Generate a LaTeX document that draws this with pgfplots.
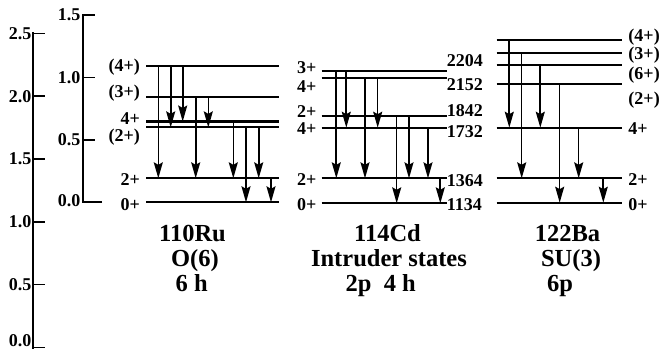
\documentclass[border=0pt]{standalone}
\usepackage{fontspec}
\setmainfont{Liberation Serif}
\usepackage{pgfplots}
\pgfplotsset{compat=1.18}
\usetikzlibrary{arrows.meta}

\newcommand\lab{\fontsize{18bp}{18bp}\selectfont\bfseries}
\newcommand\biglab{\fontsize{24.5bp}{24.5bp}\selectfont\bfseries}

\pgfplotsset{
  lev/.style={black, line width=1.8bp, no marks},
  tr/.style={black, line width=1.6bp, no marks, -{Stealth[length=16bp,width=9bp,inset=2.5bp]}},
  scaleaxis/.style={scale only axis, clip=false,
    axis line style={draw=none},
    xtick=\empty, ytick pos=left,
    tick align=inside, major tick length=12bp,
    major tick style={line width=1.6bp, black},
    yticklabel style={font=\lab, anchor=east, inner sep=0pt}},
}
\tikzset{
  ll/.style={font=\lab, anchor=base east, inner sep=0pt},
  rl/.style={font=\lab, anchor=base west, inner sep=0pt},
  bl/.style={font=\biglab, anchor=base, inner sep=0pt},
}

\begin{document}
\begin{tikzpicture}
\useasboundingbox (-33bp,-1.5bp) rectangle (630bp,347.5bp);
% ---------------- outer scale (MeV), also the frame for 114Cd and 122Ba
\begin{axis}[scaleaxis, name=A, at={(0,0)}, anchor=south west,
  width=630bp, height=314bp, xmin=33, xmax=663, ymin=0, ymax=2.5,
  ytick={0,0.5,1,1.5,2,2.5},
  yticklabels={\raisebox{14bp}{0.0},0.5,1.0,1.5,2.0,2.5},
  yticklabel style={xshift=-1.5bp}]
\draw[line width=1.8bp] (rel axis cs:0,-0.008) -- (rel axis cs:0,1.004);
\coordinate (Borig) at (axis cs:83,1.156);
% 114Cd levels
\addplot[lev] coordinates {(321.7,1.148) (446.7,1.148)};
\addplot[lev] coordinates {(321.7,1.347) (446.7,1.347)};
\addplot[lev] coordinates {(321.7,1.750) (446.7,1.750)};
\addplot[lev] coordinates {(321.7,1.846) (446.7,1.846)};
\addplot[lev] coordinates {(321.7,2.148) (446.7,2.148)};
\addplot[lev] coordinates {(321.7,2.199) (446.7,2.199)};
% 114Cd transitions
\addplot[tr] coordinates {(336.3,2.199) (336.3,1.347)};
\addplot[tr] coordinates {(346.3,2.199) (346.3,1.750)};
\addplot[tr] coordinates {(365.0,2.148) (365.0,1.347)};
\addplot[tr] coordinates {(377.7,2.148) (377.7,1.750)};
\addplot[tr] coordinates {(396.7,1.846) (396.7,1.148)};
\addplot[tr] coordinates {(409.0,1.846) (409.0,1.347)};
\addplot[tr] coordinates {(428.0,1.750) (428.0,1.347)};
\addplot[tr] coordinates {(440.3,1.347) (440.3,1.148)};
% 122Ba levels
\addplot[lev] coordinates {(496.7,1.153) (622.3,1.153)};
\addplot[lev] coordinates {(496.7,1.347) (622.3,1.347)};
\addplot[lev] coordinates {(496.7,1.750) (622.3,1.750)};
\addplot[lev] coordinates {(496.7,2.098) (622.3,2.098)};
\addplot[lev] coordinates {(496.7,2.247) (622.3,2.247)};
\addplot[lev, line width=2.4bp] coordinates {(496.7,2.347) (622.3,2.347)};
\addplot[lev] coordinates {(496.7,2.446) (622.3,2.446)};
% 122Ba transitions
\addplot[tr] coordinates {(509.3,2.446) (509.3,1.750)};
\addplot[tr] coordinates {(521.7,2.347) (521.7,1.347)};
\addplot[tr] coordinates {(540.3,2.247) (540.3,1.750)};
\addplot[tr] coordinates {(559.7,2.098) (559.7,1.153)};
\addplot[tr] coordinates {(578.7,1.750) (578.7,1.347)};
\addplot[tr] coordinates {(603.3,1.347) (603.3,1.153)};
% 110Ru labels
\node[ll] at (axis cs:140,2.1935) {(4+)};
\node[ll] at (axis cs:140,1.9881) {(3+)};
\node[ll] at (axis cs:140,1.7787) {4+};
\node[ll] at (axis cs:140,1.6433) {(2+)};
\node[ll] at (axis cs:140,1.2930) {2+};
\node[ll] at (axis cs:140,1.0939) {0+};
% 114Cd labels
\node[ll] at (axis cs:316.7,2.1807) {3+};
\node[ll] at (axis cs:316.7,2.0334) {4+};
\node[ll] at (axis cs:316.7,1.8344) {2+};
\node[ll] at (axis cs:316.7,1.6990) {4+};
\node[ll] at (axis cs:316.7,1.2930) {2+};
\node[ll] at (axis cs:316.7,1.0939) {0+};
\node[rl] at (axis cs:446.7,2.2341) {2204};
\node[rl] at (axis cs:446.7,2.0478) {2152};
\node[rl] at (axis cs:446.7,1.8360) {1842};
\node[rl] at (axis cs:446.7,1.6696) {1732};
\node[rl] at (axis cs:446.7,1.2850) {1364};
\node[rl] at (axis cs:446.7,1.0939) {1134};
% 122Ba labels
\node[rl] at (axis cs:628.3,2.4395) {(4+)};
\node[rl] at (axis cs:628.3,2.2938) {(3+)};
\node[rl] at (axis cs:628.3,2.1346) {(6+)};
\node[rl] at (axis cs:628.3,1.9315) {(2+)};
\node[rl] at (axis cs:628.3,1.6967) {4+};
\node[rl] at (axis cs:628.3,1.2930) {2+};
\node[rl] at (axis cs:628.3,1.0939) {0+};
% nucleus captions
\node[bl] at (axis cs:192.5,0.8432) {110Ru};
\node[bl] at (axis cs:195.0,0.6425) {O(6)};
\node[bl] at (axis cs:191.7,0.4419) {6 h};
\node[bl] at (axis cs:387.5,0.8432) {114Cd};
\node[bl] at (axis cs:389.0,0.6425) {Intruder states};
\node[bl] at (axis cs:380.8,0.4419) {2p\ \ 4 h};
\node[bl] at (axis cs:567.5,0.8432) {122Ba};
\node[bl] at (axis cs:571.0,0.6425) {SU(3)};
\node[bl] at (axis cs:560.0,0.4419) {6p};
\end{axis}
% ---------------- inner scale (MeV) for 110Ru
\begin{axis}[scaleaxis, at={(Borig)}, anchor=south west,
  width=19bp, height=187.35bp, xmin=83, xmax=102, ymin=0, ymax=1.5,
  ytick={0,0.5,1,1.5},
  yticklabels={\raisebox{4bp}{0.0},0.5,1.0,1.5},
  yticklabel style={xshift=-2.5bp}]
\draw[line width=1.8bp] (rel axis cs:1,0) -- (rel axis cs:0,0) -- (rel axis cs:0,1.005);
% 110Ru levels
\addplot[lev] coordinates {(146,0) (279,0)};
\addplot[lev] coordinates {(146,0.192) (279,0.192)};
\addplot[lev] coordinates {(146,0.600) (279,0.600)};
\addplot[lev, line width=2.2bp] coordinates {(146,0.647) (279,0.647)};
\addplot[lev, line width=2.2bp] coordinates {(146,0.841) (279,0.841)};
\addplot[lev] coordinates {(146,1.094) (279,1.094)};
% 110Ru transitions
\addplot[tr] coordinates {(158.3,1.094) (158.3,0.192)};
\addplot[tr] coordinates {(170.7,1.094) (170.7,0.600)};
\addplot[tr] coordinates {(182.7,1.094) (182.7,0.647)};
\addplot[tr] coordinates {(195.7,0.841) (195.7,0.192)};
\addplot[tr] coordinates {(208.3,0.841) (208.3,0.600)};
\addplot[tr] coordinates {(233.3,0.647) (233.3,0.192)};
\addplot[tr] coordinates {(246.0,0.600) (246.0,0)};
\addplot[tr] coordinates {(258.7,0.600) (258.7,0.192)};
\addplot[tr] coordinates {(271.0,0.192) (271.0,0)};
\end{axis}
\end{tikzpicture}
\end{document}
